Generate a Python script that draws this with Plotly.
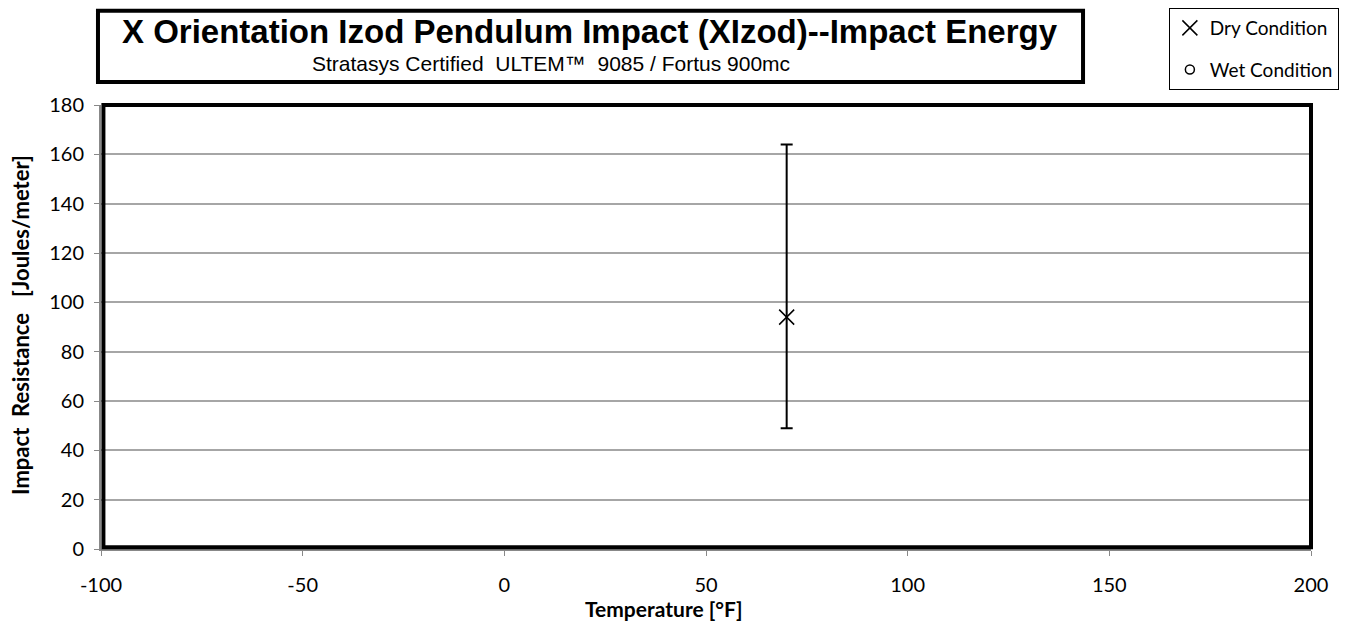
import plotly.graph_objects as go

# Data
temperature_dry = [70]
energy_dry = [94]
err_plus_dry = [70]
err_minus_dry = [45]
temperature_wet = [None]
energy_wet = [None]

x_ticks = [-100, -50, 0, 50, 100, 150, 200]
x_ticklabels = ["-100", "-50", "0", "50", "100", "150", "200"]
y_ticks = [0, 20, 40, 60, 80, 100, 120, 140, 160, 180]

title_text = "X Orientation Izod Pendulum Impact (XIzod)--Impact Energy"
subtitle_text = "Stratasys Certified\u00a0\u00a0ULTEM\u2122\u00a0\u00a09085 / Fortus 900mc"
x_title = "Temperature [\u00b0F]"
y_title = "Impact\u00a0\u00a0Resistance\u00a0\u00a0\u00a0[Joules/meter]"

font_main = "Lato, Open Sans, sans-serif"

fig = go.Figure()
fig.add_trace(go.Scatter(
    x=temperature_dry, y=energy_dry, mode="markers", name="Dry Condition",
    marker=dict(symbol="x-thin-open", size=15, color="black", line=dict(width=1.5, color="black")),
    error_y=dict(type="data", symmetric=False, array=err_plus_dry, arrayminus=err_minus_dry,
                 color="black", thickness=2, width=6),
    legendgroup="dry",
))
fig.add_trace(go.Scatter(
    x=temperature_wet, y=energy_wet, mode="markers", name="Wet Condition",
    marker=dict(symbol="circle-open", size=9, color="black", line=dict(width=1.5, color="black")),
    legendgroup="wet",
))

fig.update_layout(
    width=1353, height=623,
    margin=dict(l=93, r=50, t=97, b=82, autoexpand=False),
    plot_bgcolor="white", paper_bgcolor="white",
    font=dict(family=font_main, size=20, color="black"),
    showlegend=True,
    legend=dict(x=0.858, y=1.0, xref="container", yref="container",
                xanchor="left", yanchor="top",
                bordercolor="black", borderwidth=1, bgcolor="white",
                font=dict(size=19, family=font_main),
                traceorder="grouped", tracegroupgap=14,
                itemwidth=30),
    xaxis=dict(range=[-100, 200], tickvals=x_ticks, ticktext=x_ticklabels,
               showgrid=False, zeroline=False, automargin=False,
               showline=True, linecolor="#888888", linewidth=2,
               ticks="outside", ticklen=5, tickcolor="#888888",
               ticklabelstandoff=12,
               tickfont=dict(size=20)),
    yaxis=dict(range=[0, 180], tickvals=y_ticks, showgrid=True, gridcolor="#a6a6a6", gridwidth=1.5,
               zeroline=False, showline=True, linecolor="#888888", linewidth=2, automargin=False,
               ticks="outside", ticklen=5, tickcolor="#888888",
               ticklabelstandoff=6,
               tickfont=dict(size=20)),
)

# Axis titles as annotations positioned like the reference
fig.add_annotation(xref="paper", yref="paper", x=0.465, y=-0.133, text="<b>" + x_title + "</b>",
                   showarrow=False, xanchor="center", yanchor="middle",
                   font=dict(family=font_main, size=21, color="black"))
fig.add_annotation(xref="paper", yref="paper", x=-0.066, y=0.505, text="<b>" + y_title + "</b>",
                   showarrow=False, xanchor="center", yanchor="middle", textangle=-90,
                   font=dict(family=font_main, size=22, color="black"))

# Thick plot frame
fig.add_shape(type="rect", xref="paper", yref="paper", x0=0.002, x1=1.0, y0=0.004, y1=1.0,
              line=dict(color="black", width=4), layer="above")

# Title box
fig.add_shape(type="rect", xref="paper", yref="paper", x0=-0.0025, x1=0.8116, y0=1.052, y1=1.212,
              line=dict(color="black", width=4), fillcolor="white")
fig.add_annotation(xref="paper", yref="paper", x=0.4045, y=1.165, text="<b>" + title_text + "</b>",
                   showarrow=False, xanchor="center", yanchor="middle",
                   font=dict(family="Liberation Sans, Arial", size=33, color="black"))
fig.add_annotation(xref="paper", yref="paper", x=0.372, y=1.094, text=subtitle_text,
                   showarrow=False, xanchor="center", yanchor="middle",
                   font=dict(family="Liberation Sans, Arial", size=21, color="black"))

fig.write_html("out.html")
